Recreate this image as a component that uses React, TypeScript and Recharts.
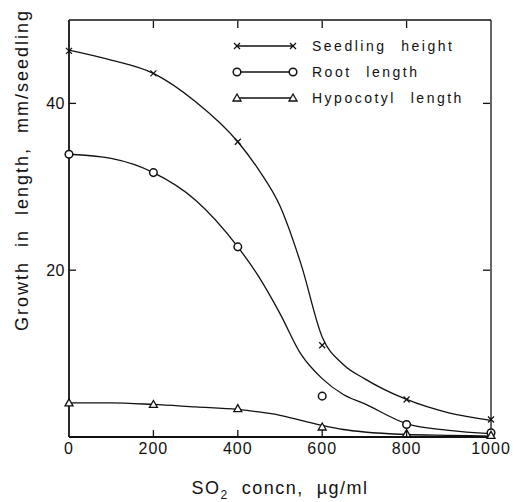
import React from "react";
import { ComposedChart, Line, XAxis, YAxis, Legend } from "recharts";

// SO2 concentration (µg/ml) where the points were measured
const CONC = [0, 200, 400, 600, 800, 1000];
const SEEDLING = [46.3, 43.6, 35.4, 11.0, 4.5, 2.1];
const ROOT = [33.9, 31.7, 22.8, 4.9, 1.5, 0.5];
const HYPO = [4.1, 3.9, 3.4, 1.2, 0.4, 0.2];

// hand-drawn smooth curves
const CURVE_X = [0, 100, 200, 300, 400, 450, 500, 550, 600, 650, 700, 800, 900, 1000];
const SEEDLING_CURVE = [46.4, 45.2, 43.6, 40.2, 35.4, 32.0, 27.7, 20.7, 12.0, 8.7, 7.0, 4.5, 2.9, 2.0];
const ROOT_CURVE = [33.9, 33.4, 31.7, 28.4, 22.8, 19.2, 14.8, 9.9, 7.0, 5.1, 4.0, 1.6, 0.8, 0.4];
const HYPO_CURVE = [4.1, 4.1, 3.9, 3.6, 3.3, 3.0, 2.6, 2.0, 1.4, 0.9, 0.6, 0.3, 0.2, 0.1];

const X_TICKS = [0, 200, 400, 600, 800, 1000];
const Y_TICKS = [20, 40];
const SERIES = ["Seedling  height", "Root  length", "Hypocotyl  length"];

const INK = "#111";
const FONT = "'Liberation Sans', Arial, sans-serif";

const xs = Array.from(new Set([...CONC, ...CURVE_X])).sort((a, b) => a - b);
const rows = xs.map((x) => {
  const i = CONC.indexOf(x);
  const j = CURVE_X.indexOf(x);
  return {
    x,
    sh: i >= 0 ? SEEDLING[i] : null,
    rl: i >= 0 ? ROOT[i] : null,
    hl: i >= 0 ? HYPO[i] : null,
    shC: j >= 0 ? SEEDLING_CURVE[j] : null,
    rlC: j >= 0 ? ROOT_CURVE[j] : null,
    hlC: j >= 0 ? HYPO_CURVE[j] : null,
  };
});

function Mark({ kind, cx, cy }: { kind: string; cx: number; cy: number }) {
  if (kind === "cross") {
    const s = 3;
    return (
      <g stroke={INK} strokeWidth={1.2}>
        <line x1={cx - s} y1={cy - s} x2={cx + s} y2={cy + s} />
        <line x1={cx - s} y1={cy + s} x2={cx + s} y2={cy - s} />
      </g>
    );
  }
  if (kind === "circle") {
    return <circle cx={cx} cy={cy} r={3.8} fill="#fff" stroke={INK} strokeWidth={1.5} />;
  }
  return (
    <polygon
      points={`${cx},${cy - 4} ${cx - 4},${cy + 3} ${cx + 4},${cy + 3}`}
      fill="#fff"
      stroke={INK}
      strokeWidth={1.3}
    />
  );
}

const dotFor = (kind: string) => (p: any) => {
  const key = `${kind}-${p.index}`;
  if (p.cy == null || p.value == null || isNaN(p.cy)) return <g key={key} />;
  return (
    <g key={key}>
      <Mark kind={kind} cx={p.cx} cy={p.cy} />
    </g>
  );
};

const BottomTick = (p: any) => {
  const { x, y, payload } = p;
  const edge = payload.value === 0 || payload.value === 1000;
  return (
    <g>
      {!edge && <line x1={x} x2={x} y1={y - 3} y2={y - 10} stroke={INK} strokeWidth={1.3} />}
      <text x={x} y={y} dy="0.85em" textAnchor="middle" fontSize={16} letterSpacing={1} fill={INK} fontFamily={FONT}>
        {payload.value}
      </text>
    </g>
  );
};

const TopTick = (p: any) => {
  const { x, y } = p;
  return <line x1={x} x2={x} y1={y + 1} y2={y + 8} stroke={INK} strokeWidth={1.3} />;
};

const LeftTick = (p: any) => {
  const { x, y, payload } = p;
  return (
    <g>
      <line x1={x + 4} x2={x + 11} y1={y} y2={y} stroke={INK} strokeWidth={1.3} />
      <text x={x} y={y} dy="0.36em" textAnchor="end" fontSize={16} letterSpacing={0.5} fill={INK} fontFamily={FONT}>
        {payload.value}
      </text>
    </g>
  );
};

const RightTick = (p: any) => {
  const { x, y } = p;
  return <line x1={x - 1} x2={x - 8} y1={y} y2={y} stroke={INK} strokeWidth={1.3} />;
};

const KINDS = ["cross", "circle", "tri"];

function LegendBox() {
  return (
    <div style={{ fontFamily: FONT, color: INK }}>
      {SERIES.map((name, i) => (
        <div key={name} style={{ display: "flex", alignItems: "center", height: 26 }}>
          <svg width={66} height={14} style={{ display: "block" }}>
            <line x1={5} x2={61} y1={7} y2={7} stroke={INK} strokeWidth={1.3} />
            <Mark kind={KINDS[i]} cx={5} cy={7} />
            <Mark kind={KINDS[i]} cx={61} cy={7} />
          </svg>
          <span style={{ marginLeft: 14, fontSize: 14, letterSpacing: 2.5, wordSpacing: 1, whiteSpace: "pre" }}>
            {name}
          </span>
        </div>
      ))}
    </div>
  );
}

export default function App() {
  return (
    <div style={{ position: "relative", width: 511, height: 494, background: "#fff", fontFamily: FONT }}>
      <ComposedChart width={511} height={494} data={rows} margin={{ top: 11, right: 27, bottom: 0, left: 0 }}>
        <XAxis
          dataKey="x"
          type="number"
          domain={[0, 1000]}
          ticks={X_TICKS}
          height={65}
          tickSize={0}
          tickMargin={3}
          tick={BottomTick}
          axisLine={{ stroke: INK, strokeWidth: 1.8 }}
          interval={0}
        />
        <XAxis
          xAxisId="top"
          dataKey="x"
          orientation="top"
          type="number"
          domain={[0, 1000]}
          ticks={[200, 400, 600, 800]}
          height={1}
          tickSize={0}
          tickMargin={0}
          tick={TopTick}
          axisLine={{ stroke: INK, strokeWidth: 1.5 }}
          interval={0}
        />
        <YAxis
          type="number"
          domain={[0, 50]}
          ticks={Y_TICKS}
          width={61}
          tickSize={0}
          tickMargin={4}
          tick={LeftTick}
          axisLine={{ stroke: INK, strokeWidth: 1.8 }}
        />
        <YAxis
          yAxisId="right"
          orientation="right"
          type="number"
          domain={[0, 50]}
          ticks={Y_TICKS}
          width={1}
          tickSize={0}
          tickMargin={0}
          tick={RightTick}
          axisLine={{ stroke: INK, strokeWidth: 1.3 }}
        />
        <Legend
          layout="vertical"
          align="center"
          verticalAlign="middle"
          content={() => <LegendBox />}
          wrapperStyle={{ top: 25, left: 224, width: 270 }}
        />
        <Line dataKey="shC" type="monotone" stroke={INK} strokeWidth={1.3} dot={false} activeDot={false} connectNulls legendType="none" isAnimationActive={false} />
        <Line dataKey="rlC" type="monotone" stroke={INK} strokeWidth={1.3} dot={false} activeDot={false} connectNulls legendType="none" isAnimationActive={false} />
        <Line xAxisId="top" yAxisId="right" dataKey="hlC" type="monotone" stroke={INK} strokeWidth={1.3} dot={false} activeDot={false} connectNulls legendType="none" isAnimationActive={false} />
        <Line dataKey="sh" name={SERIES[0]} stroke="none" dot={dotFor("cross")} activeDot={false} isAnimationActive={false} />
        <Line dataKey="rl" name={SERIES[1]} stroke="none" dot={dotFor("circle")} activeDot={false} isAnimationActive={false} />
        <Line xAxisId="top" yAxisId="right" dataKey="hl" name={SERIES[2]} stroke="none" dot={dotFor("tri")} activeDot={false} isAnimationActive={false} />
      </ComposedChart>
      <div
        style={{
          position: "absolute",
          left: 14,
          top: 162,
          transform: "translate(-50%, -50%) rotate(-90deg)",
          whiteSpace: "pre",
          fontSize: 18,
          letterSpacing: 2,
          color: INK,
        }}
      >
        {"Growth  in  length,  mm/seedling"}
      </div>
      <div
        style={{
          position: "absolute",
          left: 272,
          top: 482,
          transform: "translate(-50%, -50%)",
          whiteSpace: "pre",
          fontSize: 18,
          letterSpacing: 1.5,
          color: INK,
        }}
      >
        SO<sub style={{ fontSize: 12 }}>2</sub>{"  concn,  µg/ml"}
      </div>
    </div>
  );
}
